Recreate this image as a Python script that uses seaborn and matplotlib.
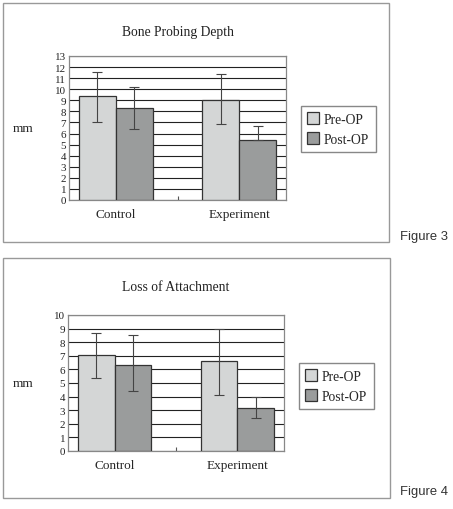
import pandas as pd
import matplotlib.pyplot as plt
import seaborn as sns
from matplotlib.patches import Rectangle

# 数据
groups = ['Control', 'Experiment']
phases = ['Pre-OP', 'Post-OP']

# Figure 3: Bone Probing Depth
bpd_pre = [9.35, 9.0]
bpd_post = [8.3, 5.45]
bpd_pre_lo = [7.0, 6.9]
bpd_pre_hi = [11.6, 11.4]
bpd_post_lo = [6.4, 5.45]
bpd_post_hi = [10.2, 6.7]

# Figure 4: Loss of Attachment
loa_pre = [7.05, 6.6]
loa_post = [6.35, 3.15]
loa_pre_lo = [5.4, 4.1]
loa_pre_hi = [8.7, 8.95]
loa_post_lo = [4.4, 2.4]
loa_post_hi = [8.5, 4.0]

W, H = 453, 510

sns.set_style('white')
plt.rcParams['font.family'] = ['Liberation Serif', 'DejaVu Serif']

fig = plt.figure(figsize=(W / 100, H / 100), dpi=100)


def draw_panel(rect, pre, post, pre_lo, pre_hi, post_lo, post_hi, ymax,
               title, title_pad, box, legend_pos, fig_label, fig_label_y):
    l, t, r, b = rect
    ax = fig.add_axes([l / W, 1 - b / H, (r - l) / W, (b - t) / H])
    df = pd.DataFrame({
        'group': groups * 2,
        'phase': [phases[0]] * 2 + [phases[1]] * 2,
        'value': pre + post,
    })
    sns.barplot(data=df, x='group', y='value', hue='phase', hue_order=phases,
                palette=['#d4d6d6', '#9a9c9c'], edgecolor='#333333',
                linewidth=0.9, width=0.6, errorbar=None, ax=ax, zorder=3)

    # 误差线
    lows = pre_lo + post_lo
    highs = pre_hi + post_hi
    bars = [p for p in ax.patches if p.get_height() > 0][:4]
    for p, lo, hi in zip(bars, lows, highs):
        xc = p.get_x() + p.get_width() / 2
        h = p.get_height()
        ax.errorbar(xc, h, yerr=[[h - lo], [hi - h]], fmt='none',
                    ecolor='#444444', elinewidth=0.8, capsize=3.5,
                    capthick=0.8, zorder=4)

    ax.set_ylim(0, ymax)
    ax.set_yticks(range(0, ymax + 1))
    ax.yaxis.grid(True, color='#222222', linewidth=0.8, zorder=0)
    ax.set_axisbelow(True)
    ax.set_xlabel('')
    ax.set_ylabel('mm', rotation=0, fontsize=9.5, va='center', ha='center')
    ax.yaxis.set_label_coords(-(l - 23) / (r - l), 0.5)
    ax.tick_params(axis='y', length=0, pad=2, labelsize=7.9, colors='#222222')
    ax.tick_params(axis='x', which='major', length=0, pad=6, labelsize=9.5)
    ax.set_xticks([0.5], minor=True)
    ax.tick_params(axis='x', which='minor', direction='in', length=3,
                   width=0.8, color='#555555', bottom=True)
    for s in ax.spines.values():
        s.set_edgecolor('#888888')
        s.set_linewidth(0.9)
    ax.set_title(title, fontsize=9.8, pad=title_pad, color='#222222')

    sns.move_legend(ax, 'center left', bbox_to_anchor=legend_pos,
                    bbox_transform=fig.transFigure, title=None, frameon=True,
                    fancybox=False, edgecolor='#888888', framealpha=1,
                    fontsize=9.8, handlelength=0.9, handleheight=0.9,
                    handletextpad=0.35, labelspacing=0.5, borderpad=0.45,
                    borderaxespad=0)

    bl, bt, br, bb = box
    fig.add_artist(Rectangle((bl / W, 1 - bb / H), (br - bl) / W, (bb - bt) / H,
                             transform=fig.transFigure, fill=False,
                             edgecolor='#999999', linewidth=1.0))
    fig.text(400 / W, 1 - fig_label_y / H, fig_label, ha='left', va='center',
             family='Liberation Sans', fontsize=9.4, color='#333333')


draw_panel((69, 57, 286, 201), bpd_pre, bpd_post, bpd_pre_lo, bpd_pre_hi,
           bpd_post_lo, bpd_post_hi, 13, 'Bone Probing Depth', 15,
           (3, 4, 389, 243), (301 / W, 1 - 130 / H), 'Figure 3', 237)
draw_panel((68, 316, 284, 452), loa_pre, loa_post, loa_pre_lo, loa_pre_hi,
           loa_post_lo, loa_post_hi, 10, 'Loss of Attachment', 18,
           (3, 259, 390, 499), (299 / W, 1 - 387 / H), 'Figure 4', 492)

fig.savefig('out.png', dpi=100)
